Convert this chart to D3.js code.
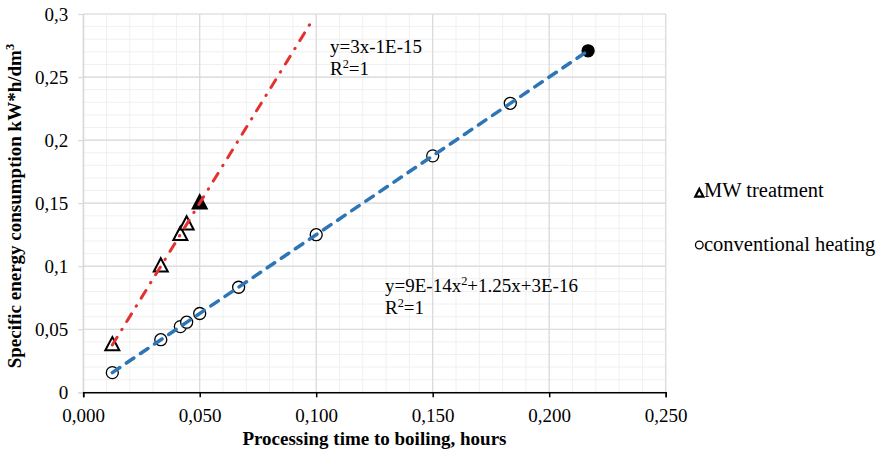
<!DOCTYPE html>
<html>
<head>
<meta charset="utf-8">
<script src="https://cdn.jsdelivr.net/npm/d3@7"></script>
<style>
  html, body { margin: 0; padding: 0; background: #fff; }
  svg { display: block; }
  svg text { font-family: "Times New Roman", "Liberation Serif", "DejaVu Serif", serif !important; }
</style>
</head>
<body>
<svg id="chart" width="877" height="457"></svg>
<script>
// Processing time to boiling (hours) and specific energy consumption (kW*h/dm3)
const mwTime = [0.0125, 0.0333, 0.0417, 0.0444, 0.05];
const mwEnergy = [0.0375, 0.1, 0.125, 0.1333, 0.15];
const convTime = [0.0125, 0.0333, 0.0417, 0.0444, 0.05, 0.0667, 0.1, 0.15, 0.1833, 0.2167];
const convEnergy = [0.0156, 0.0417, 0.0521, 0.0556, 0.0625, 0.0833, 0.125, 0.1875, 0.2292, 0.2708];
// Points shown highlighted (filled) in each series
const mwFilled = [4];
const convFilled = [9];
// Forward forecast of the MW trendline, hours
const mwForecast = 0.048;

const xTicks = [0, 0.05, 0.1, 0.15, 0.2, 0.25];
const yTicks = [0, 0.05, 0.1, 0.15, 0.2, 0.25, 0.3];
const xTickLabels = ["0,000", "0,050", "0,100", "0,150", "0,200", "0,250"];
const yTickLabels = ["0", "0,05", "0,1", "0,15", "0,2", "0,25", "0,3"];

const mwEquation = ["y=3x-1E-15", "R", "2", "=1"];
const convEquation = ["y=9E-14x", "2", "+1.25x+3E-16"];
const legendLabels = ["MW treatment", "conventional heating"];
const xTitle = "Processing time to boiling, hours";
const yTitle = "Specific energy consumption kW*h/dm";

const svg = d3.select("#chart");
const x = d3.scaleLinear().domain([0, 0.25]).range([83.2, 665.7]);
const y = d3.scaleLinear().domain([0, 0.3]).range([392.3, 14]);
const FS = 19;
const LFS = 20.5;

// Minor gridlines
const g = svg.append("g");
g.selectAll("line.vminor").data(d3.range(0, 0.2501, 0.01)).join("line")
  .attr("x1", d => x(d)).attr("x2", d => x(d))
  .attr("y1", y(0)).attr("y2", y(0.3))
  .attr("stroke", "#f0f0f0").attr("stroke-width", 1);
g.selectAll("line.hminor").data(d3.range(0, 0.3001, 0.01)).join("line")
  .attr("x1", x(0)).attr("x2", x(0.25))
  .attr("y1", d => y(d)).attr("y2", d => y(d))
  .attr("stroke", "#f0f0f0").attr("stroke-width", 1);
// Major gridlines
g.selectAll("line.vmajor").data(xTicks).join("line")
  .attr("x1", d => x(d)).attr("x2", d => x(d))
  .attr("y1", y(0)).attr("y2", y(0.3))
  .attr("stroke", "#d9d9d9").attr("stroke-width", 1.2);
g.selectAll("line.hmajor").data(yTicks).join("line")
  .attr("x1", x(0)).attr("x2", x(0.25))
  .attr("y1", d => y(d)).attr("y2", d => y(d))
  .attr("stroke", "#d9d9d9").attr("stroke-width", 1.2);

// Y axis (grey)
const yAxis = svg.append("g").attr("transform", `translate(${x(0)},0)`)
  .call(d3.axisLeft(y).tickValues(yTicks).tickSize(5).tickPadding(10)
    .tickFormat((d, i) => yTickLabels[i]));
yAxis.attr("font-family", null).attr("font-size", null);
yAxis.select(".domain").attr("stroke", "#d9d9d9").attr("stroke-width", 1.2);
yAxis.selectAll(".tick line").attr("stroke", "#d9d9d9").attr("stroke-width", 1.2);
yAxis.selectAll(".tick text").attr("font-size", FS).attr("fill", "#000");

// X axis (black)
const xAxis = svg.append("g").attr("transform", `translate(0,${y(0)})`)
  .call(d3.axisBottom(x).tickValues(xTicks).tickSize(5).tickPadding(11)
    .tickFormat((d, i) => xTickLabels[i]));
xAxis.attr("font-family", null).attr("font-size", null);
xAxis.select(".domain").attr("stroke", "#000").attr("stroke-width", 1.5);
xAxis.selectAll(".tick line").attr("stroke", "#000").attr("stroke-width", 1.5);
xAxis.selectAll(".tick text").attr("font-size", FS).attr("fill", "#000");

// Markers
const triPath = (cx, cy, s) => {
  const h = s * 0.95;
  return `M${cx},${cy - h * 0.6}L${cx + s / 2},${cy + h * 0.4}L${cx - s / 2},${cy + h * 0.4}Z`;
};
const mwData = mwTime.map((t, i) => ({ t, e: mwEnergy[i], f: mwFilled.includes(i) }));
const convData = convTime.map((t, i) => ({ t, e: convEnergy[i], f: convFilled.includes(i) }));

svg.append("g").selectAll("circle").data(convData).join("circle")
  .attr("cx", d => x(d.t)).attr("cy", d => y(d.e)).attr("r", 6)
  .attr("fill", d => d.f ? "#000" : "#fff").attr("stroke", "#000").attr("stroke-width", 1.3);
svg.append("g").selectAll("path").data(mwData).join("path")
  .attr("d", d => triPath(x(d.t), y(d.e), 14))
  .attr("fill", d => d.f ? "#000" : "#fff").attr("stroke", "#000").attr("stroke-width", 2)
  .attr("stroke-linejoin", "miter");

// Least-squares trendlines
function fit(xs, ys) {
  const mx = d3.mean(xs), my = d3.mean(ys);
  const b = d3.sum(xs, (v, i) => (v - mx) * (ys[i] - my)) / d3.sum(xs, v => (v - mx) ** 2);
  return { b, a: my - b * mx };
}
const mwFit = fit(mwTime, mwEnergy);
const convFit = fit(convTime, convEnergy);
const line = d3.line().x(d => x(d[0])).y(d => y(d[1]));

const mwX0 = d3.min(mwTime), mwX1 = d3.max(mwTime) + mwForecast;
svg.append("path")
  .attr("d", line([[mwX0, mwFit.a + mwFit.b * mwX0], [mwX1, mwFit.a + mwFit.b * mwX1]]))
  .attr("stroke", "#e3312d").attr("stroke-width", 3).attr("fill", "none")
  .attr("stroke-linecap", "round").attr("stroke-dasharray", "9 9 0.5 9");

const cX0 = d3.min(convTime), cX1 = d3.max(convTime);
svg.append("path")
  .attr("d", line([[cX0, convFit.a + convFit.b * cX0], [cX1, convFit.a + convFit.b * cX1]]))
  .attr("stroke", "#2e75b6").attr("stroke-width", 3.5).attr("fill", "none")
  .attr("stroke-linecap", "round").attr("stroke-dasharray", "9 8");

// Trendline equations
const t1 = svg.append("text").attr("x", 330).attr("y", 53).attr("font-size", FS).attr("fill", "#000");
t1.append("tspan").text(mwEquation[0]);
const t2 = svg.append("text").attr("x", 330).attr("y", 75).attr("font-size", FS).attr("fill", "#000");
t2.append("tspan").text(mwEquation[1]);
t2.append("tspan").attr("font-size", FS * 0.65).attr("dy", -7).text(mwEquation[2]);
t2.append("tspan").attr("dy", 7).text(mwEquation[3]);

const t3 = svg.append("text").attr("x", 385).attr("y", 291.5).attr("font-size", FS).attr("fill", "#000");
t3.append("tspan").text(convEquation[0]);
t3.append("tspan").attr("font-size", FS * 0.65).attr("dy", -7).text(convEquation[1]);
t3.append("tspan").attr("dy", 7).text(convEquation[2]);
const t4 = svg.append("text").attr("x", 385).attr("y", 313.5).attr("font-size", FS).attr("fill", "#000");
t4.append("tspan").text("R");
t4.append("tspan").attr("font-size", FS * 0.65).attr("dy", -7).text("2");
t4.append("tspan").attr("dy", 7).text("=1");

// Legend
const lg = svg.append("g");
lg.append("path").attr("d", triPath(699.3, 193.5, 8))
  .attr("fill", "#fff").attr("stroke", "#000").attr("stroke-width", 2.2);
lg.append("text").attr("x", 704).attr("y", 197).attr("font-size", LFS).text(legendLabels[0]);
lg.append("circle").attr("cx", 699.3).attr("cy", 245).attr("r", 3.8)
  .attr("fill", "#fff").attr("stroke", "#000").attr("stroke-width", 1.3);
lg.append("text").attr("x", 704).attr("y", 250.5).attr("font-size", LFS).text(legendLabels[1]);

// Axis titles
svg.append("text").attr("x", (x(0) + x(0.25)) / 2).attr("y", 445)
  .attr("text-anchor", "middle").attr("font-size", FS).attr("font-weight", "bold")
  .text(xTitle);
const yt = svg.append("text")
  .attr("transform", `translate(21,${(y(0) + y(0.3)) / 2 + 3}) rotate(-90)`)
  .attr("text-anchor", "middle").attr("font-size", FS).attr("font-weight", "bold");
yt.append("tspan").text(yTitle);
yt.append("tspan").attr("font-size", FS * 0.65).attr("dy", -7).text("3");
</script>
</body>
</html>
